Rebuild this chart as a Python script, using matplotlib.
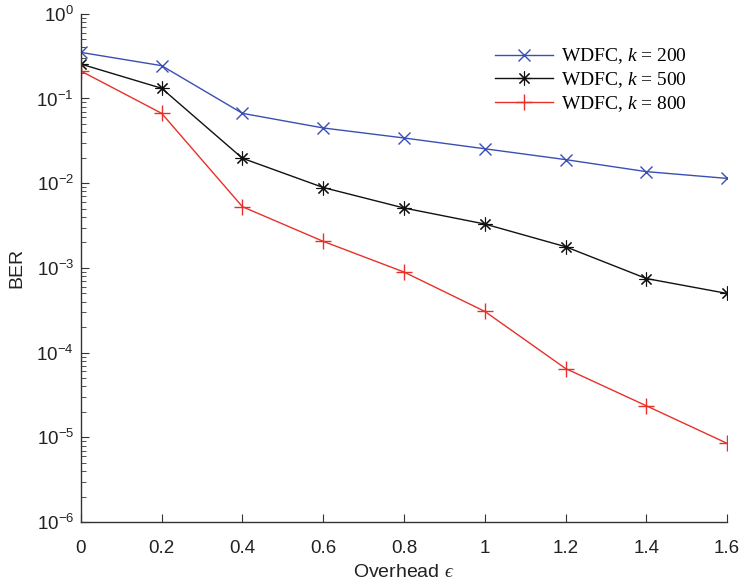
import matplotlib
matplotlib.use("Agg")
import matplotlib.pyplot as plt
from matplotlib.ticker import LogLocator, NullFormatter

overhead = [0, 0.2, 0.4, 0.6, 0.8, 1.0, 1.2, 1.4, 1.6]
ber_k200 = [0.35, 0.244, 0.0668, 0.0449, 0.0342, 0.0255, 0.019, 0.0137, 0.0114]
ber_k500 = [0.255, 0.132, 0.0197, 0.0089, 0.0051, 0.0033, 0.00178, 0.00075, 0.0005]
ber_k800 = [0.211, 0.0668, 0.00528, 0.00206, 0.000895, 0.000307, 6.5e-5, 2.36e-5, 8.5e-6]
labels = ["WDFC, $k$ = 200", "WDFC, $k$ = 500", "WDFC, $k$ = 800"]

plt.rcParams["font.family"] = ["Liberation Sans", "DejaVu Sans"]
plt.rcParams["mathtext.fontset"] = "custom"
plt.rcParams["mathtext.rm"] = "Liberation Sans"
plt.rcParams["mathtext.it"] = "Liberation Serif:italic"
plt.rcParams["mathtext.fallback"] = "cm"

fig = plt.figure(figsize=(7.42, 5.86), dpi=100)
ax = fig.add_axes([0.109, 0.109, 0.871, 0.8675])

ax.plot(overhead, ber_k200, color="#3a4fb3", lw=1.0, marker="x", ms=9, mew=1.0, label=labels[0])
ax.plot(overhead, ber_k500, color="#111111", lw=1.0, marker=(8, 2, 0), ms=10, mew=0.8, label=labels[1])
ax.plot(overhead, ber_k800, color="#e8302a", lw=1.0, marker="+", ms=12, mew=1.0, label=labels[2])

ax.set_yscale("log")
ax.set_xlim(0, 1.6)
ax.set_ylim(1e-6, 1)
ax.set_xticks([0, 0.2, 0.4, 0.6, 0.8, 1.0, 1.2, 1.4, 1.6])
ax.set_xticklabels(["0", "0.2", "0.4", "0.6", "0.8", "1", "1.2", "1.4", "1.6"])
ax.yaxis.set_major_locator(LogLocator(base=10, numticks=10))
ax.yaxis.set_minor_locator(LogLocator(base=10, subs=range(2, 10), numticks=10))
ax.yaxis.set_minor_formatter(NullFormatter())

for s in ["top", "right"]:
    ax.spines[s].set_visible(False)
for s in ["left", "bottom"]:
    ax.spines[s].set_color("#333333")
    ax.spines[s].set_linewidth(1.0)

ax.tick_params(which="both", direction="in", colors="#333333", labelcolor="#222222", labelsize=13.5)
ax.tick_params(which="major", length=6)
ax.tick_params(which="minor", length=3.5)
ax.tick_params(axis="x", pad=13)
ax.tick_params(axis="y", pad=5)

ax.set_xlabel("Overhead $\u03f5$", fontsize=14, color="#222222", labelpad=5)
ax.set_ylabel("BER", fontsize=14, color="#222222", labelpad=8)

leg = ax.legend(loc="upper right", bbox_to_anchor=(0.965, 0.97), frameon=False,
                prop={"family": "Liberation Serif", "size": 14},
                handlelength=3.0, handletextpad=0.4, labelspacing=0.2)

fig.savefig("out.png", dpi=100)
